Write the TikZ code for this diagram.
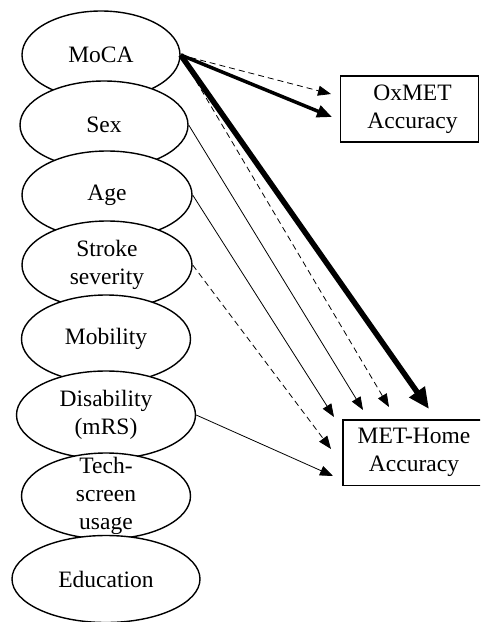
\documentclass[tikz,border=0pt]{standalone}
\usepackage{fontspec}
\setmainfont{Liberation Serif}
\usetikzlibrary{shapes.geometric,arrows.meta}
\begin{document}
\begin{tikzpicture}[x=1pt,y=-1pt,
  txt/.style={font=\fontsize{23.5}{28}\selectfont, align=center, inner sep=0pt},
  var/.style={ellipse, draw, fill=white, line width=1.4pt, inner sep=0pt,
    minimum width=#1, minimum height=88pt},
  var/.default=166pt,
  outbox/.style={txt, minimum height=66pt},
  frame/.style={draw, line width=1.4pt},
  thin/.style={line width=0.8pt, -{Triangle[length=13pt,width=10pt]}},
  dsh/.style={thin, dash pattern=on 6pt off 4pt},
  mid/.style={line width=3.5pt, -{Triangle[length=15pt,width=12pt]}},
  heavy/.style={line width=5.5pt, -{Triangle[length=21pt,width=18pt]}}
]
\useasboundingbox (0,0) rectangle (480,622);
\clip (0,0) rectangle (480,622);
\node[var=158pt, label={[txt]center:MoCA}] (moca) at (101,55) {};
\node[var=168pt, label={[txt]center:Sex}] (sex) at (104,125) {};
\node[var=170pt, label={[txt]center:Age}] (age) at (107,195) {};
\node[var=170pt, label={[txt]center:Stroke\\severity}] (stroke) at (107,265) {};
\node[var=169pt, label={[txt]center:Mobility}] (mob) at (106,339) {};
\node[var=179pt, label={[txt]center:Disability\\(mRS)}] (dis) at (106,415) {};
\node[var=169pt, minimum height=86pt, label={[txt]center:Tech-\\screen\\usage}] (tech) at (106,496) {};
\node[var=188pt, minimum height=87pt, label={[txt]center:Education}] (edu) at (106,579) {};

\node[outbox, minimum width=138pt, frame, xshift=0pt] (ox) at (409.5,109) {\hspace*{6pt}OxMET\\\hspace*{6pt}Accuracy};
\node[outbox, minimum width=142pt, minimum height=65pt] (home) at (414,452.5) {MET-Home\\Accuracy};
\draw[frame] (home.north east) ++(30,0) -| (home.south west) -| ([xshift=30pt]home.north east);

\coordinate (t1) at (331,94);
\coordinate (t2) at (332,117);
\coordinate (t3) at (429,409);
\coordinate (t4) at (389,407);
\coordinate (t5) at (363,410);
\coordinate (t6) at (334,417);
\coordinate (t7) at (331,449);
\coordinate (t8) at (333,476);

\draw[dsh] (moca.east) -- (t1);
\draw[mid] (moca.east) -- (t2);
\draw[dsh] (moca.east) -- (t4);
\draw[heavy] (moca.east) -- (t3);
\draw[thin] (sex.east) -- (t5);
\draw[thin] (age.east) -- (t6);
\draw[dsh] (stroke.east) -- (t7);
\draw[thin] (dis.east) -- (t8);
\end{tikzpicture}
\end{document}
